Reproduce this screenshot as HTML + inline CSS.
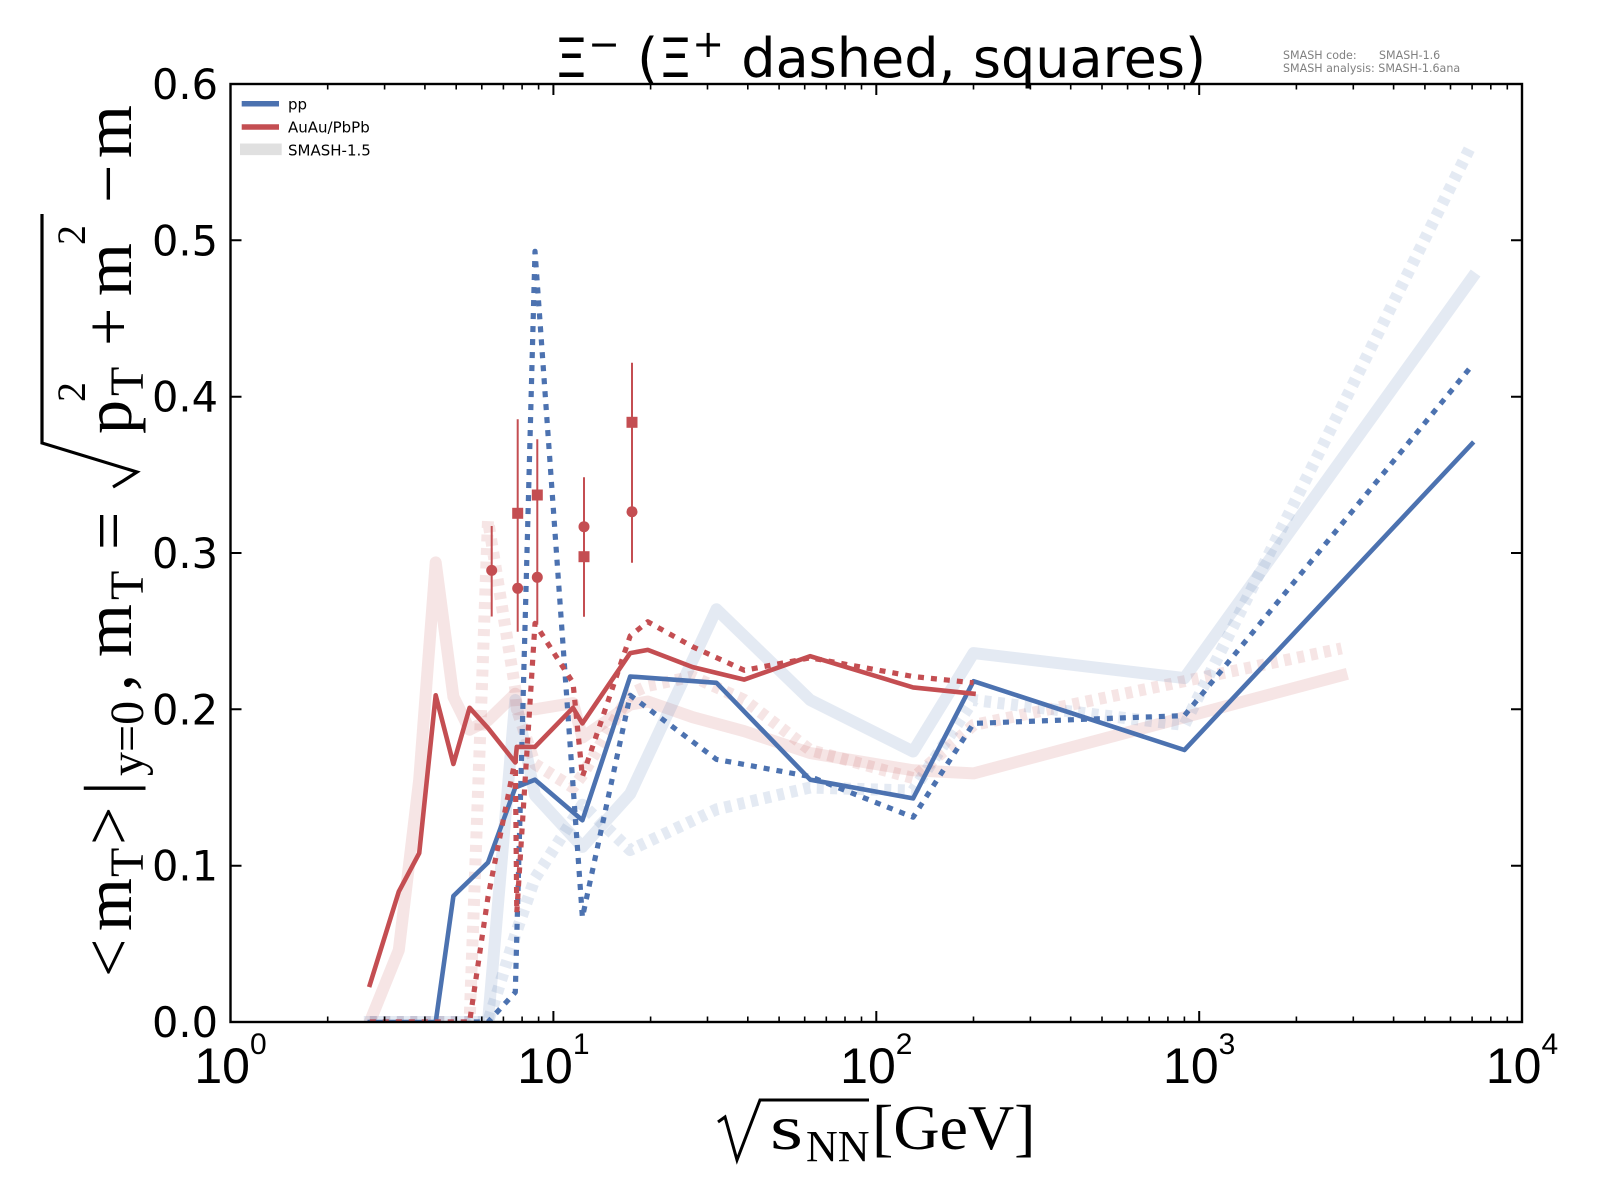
<!DOCTYPE html>
<html>
<head>
<meta charset="utf-8">
<style>
html,body{margin:0;padding:0;background:#fff}
svg{display:block}
</style>
</head>
<body>
<svg width="1600" height="1200" viewBox="0 0 1600 1200" xmlns="http://www.w3.org/2000/svg">
<rect width="1600" height="1200" fill="#fff"/>
<defs>
<clipPath id="ax"><rect x="230.5" y="84" width="1291.5" height="938"/></clipPath>
</defs>

<!-- data lines -->
<g clip-path="url(#ax)" fill="none" stroke-linejoin="round">
  <!-- SMASH-1.5 (light) -->
  <polyline stroke="#C44E52" stroke-opacity="0.15" stroke-width="12" stroke-linecap="square"
    points="369.8,1022 398.8,950.1 419.2,779.7 435.7,562.4 453.4,696.8 469.6,729.7 488,720.3 515.3,693.7 516.8,709.3 535,709.3 573,703.1 582.4,737.5 630.2,704.6 647.8,701.5 692.7,717.2 744.3,731.2 810.2,753.1 913.1,770.3 973.5,773.4 1341.6,675.4"/>
  <polyline stroke="#C44E52" stroke-opacity="0.15" stroke-width="12" stroke-dasharray="7 6.5" stroke-linecap="butt"
    points="369.8,1022 398.8,1022 419.2,1022 435.7,1022 453.4,1022 469.6,1022 488,520.2 515.3,689 516.8,709.3 535,764.1 573,787.5 582.4,775 630.2,693.7 647.8,685.9 692.7,676.5 744.3,700 810.2,750 913.1,778.1 973.5,725 1341.6,648.4"/>
  <polyline stroke="#4C72B0" stroke-opacity="0.15" stroke-width="12" stroke-linecap="square"
    points="369.8,1022 398.8,1022 419.2,1022 435.7,1022 453.4,1022 488,1022 515.3,700 535,795.3 582.4,846.9 630.2,793.8 716.5,609.3 810.2,700 913.1,751.5 973.5,653.1 1184.4,678.1 1472.1,277.9"/>
  <polyline stroke="#4C72B0" stroke-opacity="0.15" stroke-width="12" stroke-dasharray="7 6.5" stroke-linecap="butt"
    points="369.8,1022 398.8,1022 419.2,1022 435.7,1022 453.4,1022 488,1022 515.3,935 535,878.2 582.4,804.7 630.2,850 716.5,809.4 810.2,787.5 913.1,790.6 973.5,700 1184.4,725 1472.1,143.4"/>

  <!-- current (dark) -->
  <polyline stroke="#4C72B0" stroke-width="4.6" stroke-linecap="square"
    points="369.8,1022 398.8,1022 419.2,1022 435.7,1022 453.4,896 488,862.5 515.3,787.5 535,779.7 582.4,820.3 630.2,676.5 716.5,682.8 810.2,779.7 913.1,798.4 973.5,681.2 1184.4,750 1472.1,443.6"/>
  <polyline stroke="#4C72B0" stroke-width="5.2" stroke-dasharray="6 7" stroke-linecap="butt"
    points="369.8,1022 398.8,1022 419.2,1022 435.7,1022 453.4,1022 488,1022 515.3,992.3 535,251.3 582.4,917.3 630.2,695.3 716.5,759.4 810.2,776.6 913.1,817.2 973.5,723.4 1184.4,715.6 1472.1,365.4"/>
  <polyline stroke="#C44E52" stroke-width="4.6" stroke-linecap="square"
    points="369.8,984.9 398.8,891.6 419.2,853.2 435.7,695.3 453.4,764 469.6,707.8 488,728.1 515.3,762.5 516.8,746.9 535,746.9 573,707.8 582.4,723.4 630.2,653.1 647.8,649.9 692.7,667.1 744.3,679.6 810.2,656.2 913.1,687.4 973.5,693.7"/>
  <polyline stroke="#C44E52" stroke-width="5.2" stroke-dasharray="6 7" stroke-linecap="butt"
    points="369.8,1022 398.8,1022 419.2,1022 435.7,1022 453.4,1022 469.6,1022 488,896.9 515.3,759.4 516.8,912.6 535,623.4 573,682.8 582.4,776.6 630.2,635.9 647.8,621.8 692.7,646.8 744.3,670.3 810.2,657.8 913.1,676.5 973.5,682.8"/>
</g>

<!-- experimental points -->
<g stroke="#C44E52" stroke-width="2">
  <line x1="491.7" y1="526" x2="491.7" y2="616.5"/>
  <line x1="517.7" y1="419.3" x2="517.7" y2="631.7"/>
  <line x1="537.3" y1="439.3" x2="537.3" y2="623.3"/>
  <line x1="584" y1="477.3" x2="584" y2="616.7"/>
  <line x1="632" y1="362.7" x2="632" y2="562.7"/>
</g>
<g fill="#C44E52">
  <circle cx="491.7" cy="570.4" r="5.5"/>
  <circle cx="517.7" cy="588.3" r="5.5"/>
  <rect x="512.2" y="507.8" width="11" height="11"/>
  <rect x="531.8" y="489.5" width="11" height="11"/>
  <circle cx="537.3" cy="577.3" r="5.5"/>
  <circle cx="584" cy="526.7" r="5.5"/>
  <rect x="578.5" y="551.2" width="11" height="11"/>
  <rect x="626.5" y="416.8" width="11" height="11"/>
  <circle cx="632" cy="511.7" r="5.5"/>
</g>

<!-- ticks -->
<path fill="none" stroke="#000" stroke-width="2" d="
M553.4,1022V1011 M876.3,1022V1011 M1199.2,1022V1011
M553.4,84V95 M876.3,84V95 M1199.2,84V95
M230.5,865.7H241.5 M230.5,709.3H241.5 M230.5,553H241.5 M230.5,396.7H241.5 M230.5,240.3H241.5
M1522,865.7H1511 M1522,709.3H1511 M1522,553H1511 M1522,396.7H1511 M1522,240.3H1511
"/>
<path fill="none" stroke="#000" stroke-width="1.6" d="
M327.7,1022v-5.5 M384.6,1022v-5.5 M424.9,1022v-5.5 M456.2,1022v-5.5 M481.8,1022v-5.5 M503.4,1022v-5.5 M522.1,1022v-5.5 M538.6,1022v-5.5
M650.6,1022v-5.5 M707.5,1022v-5.5 M747.8,1022v-5.5 M779.1,1022v-5.5 M804.7,1022v-5.5 M826.3,1022v-5.5 M845,1022v-5.5 M861.5,1022v-5.5
M973.5,1022v-5.5 M1030.4,1022v-5.5 M1070.7,1022v-5.5 M1102,1022v-5.5 M1127.6,1022v-5.5 M1149.2,1022v-5.5 M1167.9,1022v-5.5 M1184.4,1022v-5.5
M1296.4,1022v-5.5 M1353.3,1022v-5.5 M1393.6,1022v-5.5 M1424.9,1022v-5.5 M1450.5,1022v-5.5 M1472.1,1022v-5.5 M1490.8,1022v-5.5 M1507.3,1022v-5.5
M327.7,84v5.5 M384.6,84v5.5 M424.9,84v5.5 M456.2,84v5.5 M481.8,84v5.5 M503.4,84v5.5 M522.1,84v5.5 M538.6,84v5.5
M650.6,84v5.5 M707.5,84v5.5 M747.8,84v5.5 M779.1,84v5.5 M804.7,84v5.5 M826.3,84v5.5 M845,84v5.5 M861.5,84v5.5
M973.5,84v5.5 M1030.4,84v5.5 M1070.7,84v5.5 M1102,84v5.5 M1127.6,84v5.5 M1149.2,84v5.5 M1167.9,84v5.5 M1184.4,84v5.5
M1296.4,84v5.5 M1353.3,84v5.5 M1393.6,84v5.5 M1424.9,84v5.5 M1450.5,84v5.5 M1472.1,84v5.5 M1490.8,84v5.5 M1507.3,84v5.5
"/>

<!-- spines -->
<rect x="230.5" y="84" width="1291.5" height="938" fill="none" stroke="#000" stroke-width="2.4"/>

<!-- y tick labels -->
<g font-family="DejaVu Sans, sans-serif" font-size="41.5" fill="#000" text-anchor="end">
  <text x="218" y="1037">0.0</text>
  <text x="218" y="880.7">0.1</text>
  <text x="218" y="724.3">0.2</text>
  <text x="218" y="568">0.3</text>
  <text x="218" y="411.7">0.4</text>
  <text x="218" y="255.3">0.5</text>
  <text x="218" y="99">0.6</text>
</g>

<!-- x tick labels -->
<g font-family="Liberation Sans, sans-serif" font-size="50" fill="#000" text-anchor="middle">
  <text x="230.5" y="1083">10<tspan font-size="30" dy="-29">0</tspan></text>
  <text x="553.4" y="1083">10<tspan font-size="30" dy="-29">1</tspan></text>
  <text x="876.3" y="1083">10<tspan font-size="30" dy="-29">2</tspan></text>
  <text x="1199.2" y="1083">10<tspan font-size="30" dy="-29">3</tspan></text>
  <text x="1522" y="1083">10<tspan font-size="30" dy="-29">4</tspan></text>
</g>

<!-- title -->
<text x="880" y="77" font-family="DejaVu Sans, sans-serif" font-size="54" fill="#000" text-anchor="middle">Ξ<tspan font-size="38" dy="-20">−</tspan><tspan dy="20"> (Ξ</tspan><tspan font-size="38" dy="-20">+</tspan><tspan dy="20"> dashed, squares)</tspan></text>

<!-- SMASH version text -->
<g font-family="DejaVu Sans, sans-serif" font-size="11.1" fill="#808080">
  <text x="1283" y="59">SMASH code:</text>
  <text x="1379" y="59">SMASH-1.6</text>
  <text x="1283" y="72">SMASH analysis: SMASH-1.6ana</text>
</g>

<!-- legend -->
<line x1="241.7" y1="103.7" x2="279" y2="103.7" stroke="#4C72B0" stroke-width="5.5"/>
<line x1="241.7" y1="127" x2="279" y2="127" stroke="#C44E52" stroke-width="5.5"/>
<line x1="240" y1="149.3" x2="281.7" y2="149.3" stroke="#e0e0e0" stroke-width="11.7"/>
<g font-family="DejaVu Sans, sans-serif" font-size="15" fill="#000">
  <text x="288" y="109.3">pp</text>
  <text x="288" y="132.7">AuAu/PbPb</text>
  <text x="288" y="155.7">SMASH-1.5</text>
</g>

<!-- x label -->
<path d="M718,1122 L725,1117 L737,1160 L760,1100 L869,1100" fill="none" stroke="#000" stroke-width="3"/>
<g font-family="Liberation Serif, serif" fill="#000">
  <text x="770" y="1149" font-size="64" textLength="33" lengthAdjust="spacingAndGlyphs">s</text>
  <text x="806" y="1161" font-size="44">NN</text>
  <text x="872" y="1149" font-size="64">[GeV]</text>
</g>

<!-- y label -->
<path d="M113,487 L123,481 L137,472 L42,443 L42,214" fill="none" stroke="#000" stroke-width="3.2"/>
<g transform="rotate(-90)" font-family="Liberation Serif, serif" fill="#000">
  <text x="-977" y="131" font-size="68">&lt;</text>
  <text x="-931" y="131" font-size="68">m</text>
  <text x="-877" y="143" font-size="48">T</text>
  <text x="-845" y="131" font-size="68">&gt;</text>
  <text x="-795" y="131" font-size="68">|</text>
  <text x="-776" y="143" font-size="48">y=0</text>
  <text x="-691" y="131" font-size="68">,</text>
  <text x="-657" y="131" font-size="68">m</text>
  <text x="-600" y="143" font-size="48">T</text>
  <text x="-550" y="131" font-size="68">=</text>
  <text x="-434" y="131" font-size="68">p</text>
  <text x="-396" y="143" font-size="48">T</text>
  <text x="-402" y="85" font-size="40">2</text>
  <text x="-346" y="131" font-size="68">+</text>
  <text x="-296" y="131" font-size="68">m</text>
  <text x="-245" y="85" font-size="40">2</text>
  <text x="-203" y="131" font-size="68">−</text>
  <text x="-158" y="131" font-size="68">m</text>
</g>
</svg>
</body>
</html>
